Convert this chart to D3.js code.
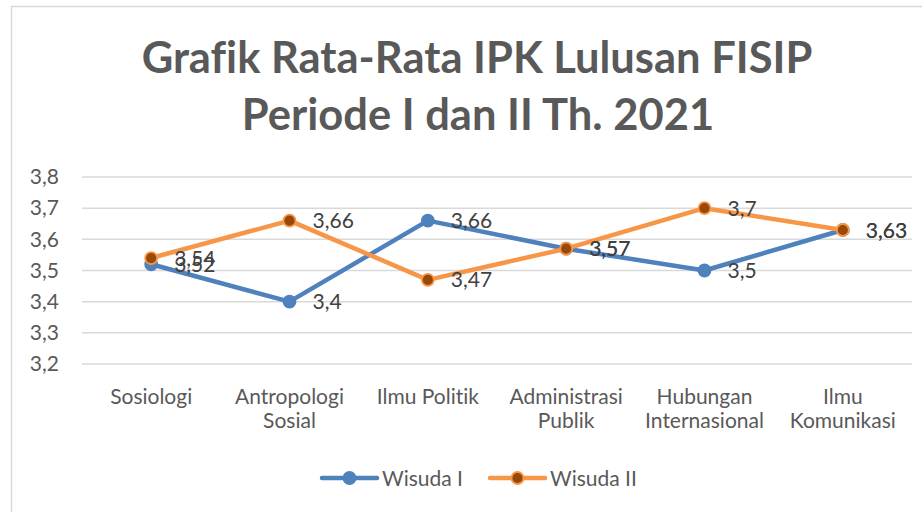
<!DOCTYPE html>
<html>
<head>
<meta charset="utf-8">
<script src="https://cdn.jsdelivr.net/npm/d3@7"></script>
<style>
  html, body { margin: 0; padding: 0; background: #fff; }
  svg { display: block; }
  text { font-family: Lato, "Open Sans", sans-serif; font-variant-ligatures: none; font-feature-settings: "liga" 0; }
</style>
</head>
<body>
<svg id="chart" width="922" height="512"></svg>
<script>
const categories = [
  ["Sosiologi"],
  ["Antropologi", "Sosial"],
  ["Ilmu Politik"],
  ["Administrasi", "Publik"],
  ["Hubungan", "Internasional"],
  ["Ilmu", "Komunikasi"]
];
const wisuda1 = [3.52, 3.40, 3.66, 3.57, 3.50, 3.63];
const wisuda2 = [3.54, 3.66, 3.47, 3.57, 3.70, 3.63];
const yTicks = [3.2, 3.3, 3.4, 3.5, 3.6, 3.7, 3.8];
const seriesNames = ["Wisuda I", "Wisuda II"];
const titleLines = ["Grafik Rata-Rata IPK Lulusan FISIP", "Periode I dan II Th. 2021"];

const fmt = v => String(+v.toFixed(2)).replace(".", ",");

const svg = d3.select("#chart");

// chart border
svg.append("rect")
  .attr("x", 11.5).attr("y", 6.5)
  .attr("width", 1000).attr("height", 700)
  .attr("fill", "#fff").attr("stroke", "#d9d9d9").attr("stroke-width", 1.5);

// title
const titleG = svg.append("g");
const t1 = titleG.append("text").text(titleLines[0])
  .attr("x", 477).attr("y", 73).attr("text-anchor", "middle")
  .attr("font-weight", "bold").attr("font-size", 43).attr("fill", "#595959");
const w1 = t1.node().getComputedTextLength();
const tsize = 43 * 671 / w1;
t1.attr("font-size", tsize);
titleG.append("text").text(titleLines[1])
  .attr("x", 478).attr("y", 130).attr("text-anchor", "middle")
  .attr("font-weight", "bold").attr("font-size", tsize).attr("fill", "#595959");

// scales
const idx = d3.range(categories.length);
const x = d3.scalePoint().domain(idx).range([82, 912]).padding(0.5);
const y = d3.scaleLinear().domain([3.2, 3.8]).range([364, 177]);

// gridlines
svg.append("g").selectAll("line").data(yTicks).join("line")
  .attr("x1", 82).attr("x2", 912)
  .attr("y1", d => y(d)).attr("y2", d => y(d))
  .attr("stroke", "#d9d9d9").attr("stroke-width", 1.5);

// y axis
const yAxis = svg.append("g").attr("transform", "translate(59,0)")
  .call(d3.axisLeft(y).tickValues(yTicks).tickFormat(fmt).tickSize(0).tickPadding(0));
yAxis.select(".domain").remove();
yAxis.selectAll("text")
  .attr("font-family", "Lato, 'Open Sans', sans-serif")
  .attr("font-size", 21).attr("fill", "#595959");

// x category labels
const xg = svg.append("g");
idx.forEach(i => {
  const t = xg.append("text")
    .attr("x", x(i)).attr("y", 404).attr("text-anchor", "middle")
    .attr("font-size", 21).attr("fill", "#595959");
  categories[i].forEach((ln, k) => {
    t.append("tspan").attr("x", x(i)).attr("dy", k === 0 ? 0 : 24).text(ln);
  });
});

const line = d3.line().x((d, i) => x(i)).y(d => y(d));

const series = [
  { name: seriesNames[0], values: wisuda1, color: "#4f81bd", fill: "#4f81bd", stroke: "#4f81bd" },
  { name: seriesNames[1], values: wisuda2, color: "#f79646", fill: "#984807", stroke: "#f79646" }
];

series.forEach(s => {
  const g = svg.append("g");
  g.append("path").datum(s.values)
    .attr("d", line).attr("fill", "none")
    .attr("stroke", s.color).attr("stroke-width", 4.5)
    .attr("stroke-linejoin", "round").attr("stroke-linecap", "round");
  g.selectAll("circle").data(s.values).join("circle")
    .attr("cx", (d, i) => x(i)).attr("cy", d => y(d))
    .attr("r", 6).attr("fill", s.fill)
    .attr("stroke", s.stroke).attr("stroke-width", 1.8);
});

// data labels
series.forEach(s => {
  svg.append("g").selectAll("text").data(s.values).join("text")
    .attr("x", (d, i) => x(i) + 23).attr("y", d => y(d))
    .attr("dy", "0.36em")
    .attr("font-size", 21).attr("fill", "#404040")
    .text(fmt);
});

// legend
const legend = [
  { x0: 322, s: series[0] },
  { x0: 490, s: series[1] }
];
legend.forEach(l => {
  const g = svg.append("g");
  g.append("line").attr("x1", l.x0).attr("x2", l.x0 + 55)
    .attr("y1", 478).attr("y2", 478)
    .attr("stroke", l.s.color).attr("stroke-width", 4.5).attr("stroke-linecap", "round");
  g.append("circle").attr("cx", l.x0 + 27.5).attr("cy", 478).attr("r", 6)
    .attr("fill", l.s.fill).attr("stroke", l.s.stroke).attr("stroke-width", 1.8);
  g.append("text").attr("x", l.x0 + 60).attr("y", 478).attr("dy", "0.36em")
    .attr("font-size", 21).attr("fill", "#595959").text(l.s.name);
});
</script>
</body>
</html>
